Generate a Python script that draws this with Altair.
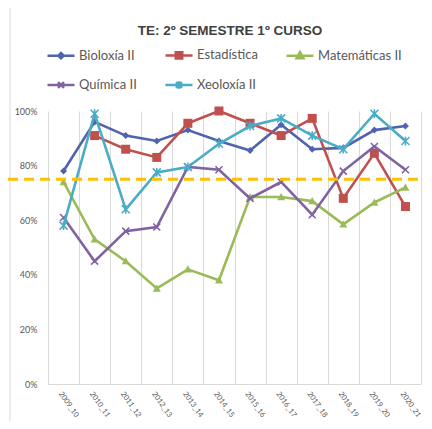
import altair as alt
import pandas as pd

title_text = "TE: 2º SEMESTRE 1º CURSO"
years = ["2009_10", "2010_11", "2011_12", "2012_13", "2013_14", "2014_15",
         "2015_16", "2016_17", "2017_18", "2018_19", "2019_20", "2020_21"]
series_names = ["Bioloxía II", "Estadística", "Matemáticas II", "Química II", "Xeoloxía II"]
bioloxia = [0.78, 0.96, 0.91, 0.89, 0.93, 0.89, 0.855, 0.95, 0.86, 0.865, 0.93, 0.945]
estadistica = [None, 0.91, 0.86, 0.83, 0.955, 1.00, 0.955, 0.91, 0.973, 0.68, 0.845, 0.65]
matematicas = [0.74, 0.53, 0.45, 0.35, 0.42, 0.38, 0.685, 0.685, 0.67, 0.585, 0.665, 0.72]
quimica = [0.61, 0.45, 0.56, 0.575, 0.795, 0.785, 0.68, 0.74, 0.62, 0.78, 0.87, 0.785]
xeoloxia = [0.58, 0.99, 0.64, 0.775, 0.795, 0.88, 0.945, 0.973, 0.91, 0.86, 0.99, 0.89]
goal = [0.75]
y_ticks = [0.0, 0.1, 0.2, 0.3, 0.4, 0.5, 0.6, 0.7, 0.8, 0.9, 1.0]

colors = ["#4F63AE", "#C0504D", "#9BBB59", "#8064A2", "#4BACC6"]
marker_paths = [
    "M0,-1L1,0L0,1L-1,0Z",
    "M-1,-1L1,-1L1,1L-1,1Z",
    "M0,-1L1,0.8L-1,0.8Z",
    "M-1,-1L1,1M-1,1L1,-1",
    "M-1,-1L1,1M-1,1L1,-1M0,-1.1L0,1.1",
]
marker_sizes = [49, 81, 64, 49, 64]
marker_filled = [True, True, True, False, False]
legend_paths = [
    "M-1,0L1,0M0,-0.2L0.2,0L0,0.2L-0.2,0Z",
    "M-1,0L1,0M-0.24,-0.24L0.24,-0.24L0.24,0.24L-0.24,0.24Z",
    "M-1,0L1,0M0,-0.26L0.26,0.2L-0.26,0.2Z",
    "M-1,0L1,0M-0.22,-0.22L0.22,0.22M-0.22,0.22L0.22,-0.22",
    "M-1,0L1,0M-0.22,-0.22L0.22,0.22M-0.22,0.22L0.22,-0.22M0,-0.28L0,0.28",
]

rows = []
for name, vals in zip(series_names, [bioloxia, estadistica, matematicas, quimica, xeoloxia]):
    for yr, v in zip(years, vals):
        if v is not None:
            rows.append({"year": yr, "series": name, "value": v})
df = pd.DataFrame(rows)

W, H = 373, 273
FONT = "Lato"
GRAY = "#595959"

x_enc = alt.X(
    "year:N", sort=years, bandPosition=0.5,
    scale=alt.Scale(type="band", paddingInner=0, paddingOuter=0),
    axis=alt.Axis(title=None, labelAngle=55, labelAlign="left", labelBaseline="middle",
                  labelFontSize=7.5, labelColor=GRAY, labelFont=FONT, labelPadding=8,
                  labelOffset=-4,
                  domainColor="#D9D9D9", gridColor="#D9D9D9", grid=True, ticks=False,
                  tickBand="extent"),
)
y_enc = alt.Y(
    "value:Q", scale=alt.Scale(domain=[0, 1]),
    axis=alt.Axis(title=None, values=y_ticks, format=".0%", grid=False, domain=False,
                  ticks=False, labelPadding=11, labelFontSize=9, labelColor=GRAY,
                  labelFont=FONT),
)

base = alt.Chart(df).encode(x=x_enc, y=y_enc)

series_layers = []
for name, col, path, size, filled in zip(series_names, colors, marker_paths, marker_sizes, marker_filled):
    sub = base.transform_filter(alt.datum.series == name)
    series_layers.append(sub.mark_line(strokeWidth=2.6, color=col))
    series_layers.append(
        sub.mark_point(shape=path, size=size, filled=filled, opacity=1, color=col,
                       strokeWidth=1 if filled else 1.6)
    )

leg = alt.Legend(title=None, orient="none", legendX=-2, legendY=-71, columns=3,
                 direction="horizontal",
                 symbolSize=729, symbolStrokeWidth=2.5, symbolOpacity=1,
                 labelFontSize=13, labelColor=GRAY, labelFont=FONT,
                 columnPadding=23, rowPadding=6, labelOffset=3)

legend_layer = (
    alt.Chart(df)
    .mark_point(filled=True, opacity=0, size=0, strokeWidth=2.5)
    .encode(
        x=x_enc, y=y_enc,
        fill=alt.Fill("series:N", scale=alt.Scale(domain=series_names, range=colors), legend=leg),
        stroke=alt.Stroke("series:N", scale=alt.Scale(domain=series_names, range=colors), legend=leg),
        shape=alt.Shape("series:N", scale=alt.Scale(domain=series_names, range=legend_paths), legend=leg),
    )
)

goal_df = pd.DataFrame({"goal": goal})
goal_rule = alt.Chart(goal_df).mark_rule(color="#FFC000", strokeWidth=3, strokeDash=[10, 6]).encode(
    y=alt.Y("goal:Q"), x=alt.value(-40), x2=alt.value(W + 3)
)

title_df = pd.DataFrame({"t": [title_text]})
title = alt.Chart(title_df).mark_text(fontSize=13.5, fontWeight="bold", font="Liberation Sans",
                                      color="#404040", align="center", baseline="middle").encode(
    text="t:N", x=alt.value(182), y=alt.value(-80)
)

border = alt.Chart(title_df).mark_rect(fillOpacity=0, stroke="#D9D9D9", strokeWidth=1).encode(
    x=alt.value(-38), x2=alt.value(390), y=alt.value(-106), y2=alt.value(340)
)

chart = alt.layer(border, *series_layers, legend_layer, goal_rule, title).properties(
    width=W, height=H,
    autosize=alt.AutoSizeParams(type="none"),
    padding={"left": 40, "top": 103, "right": 3, "bottom": 37},
    background="white",
).configure_view(strokeWidth=0)

chart.save("out.html", embed_options={"renderer": "svg", "actions": False})
